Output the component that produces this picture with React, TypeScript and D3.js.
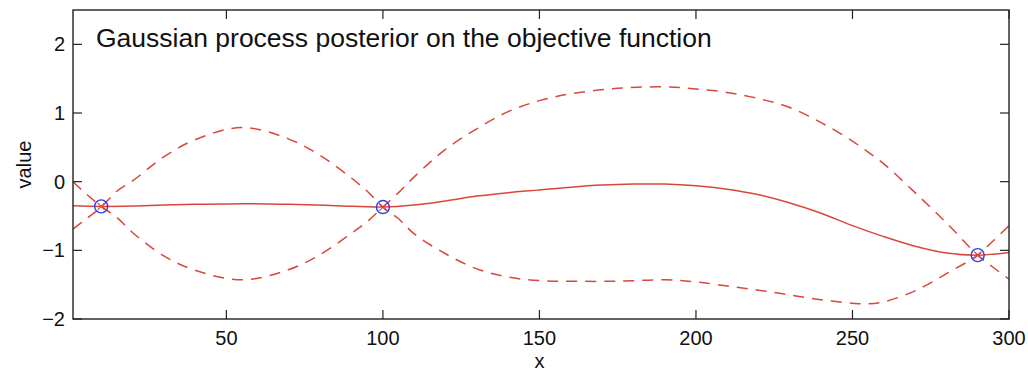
import React from "react";
import * as d3 from "d3";

const obsX = [10, 100, 290];
const obsY = [-0.36, -0.37, -1.07];

const gridX = [1, 5, 10, 15, 20, 30, 40, 55, 70, 80, 90, 95, 100, 105, 110, 120, 130, 140, 150, 160, 175, 190, 200, 210, 220, 230, 240, 250, 255, 260, 270, 280, 290, 295, 300];

const meanX = [1, 10, 20, 30, 40, 55, 70, 85, 100, 110, 120, 130, 140, 150, 160, 170, 180, 190, 200, 210, 220, 230, 240, 250, 260, 270, 280, 290, 300];
const meanY = [-0.35, -0.36, -0.355, -0.34, -0.33, -0.32, -0.33, -0.35, -0.37, -0.34, -0.28, -0.21, -0.16, -0.12, -0.08, -0.05, -0.035, -0.035, -0.06, -0.11, -0.19, -0.31, -0.46, -0.64, -0.8, -0.94, -1.04, -1.07, -1.03];

const bandA = [0.0, -0.17, -0.36, -0.52, -0.74, -1.08, -1.29, -1.43, -1.28, -1.06, -0.75, -0.58, -0.37, -0.16, 0.07, 0.47, 0.77, 1.02, 1.18, 1.28, 1.36, 1.38, 1.35, 1.30, 1.21, 1.08, 0.86, 0.59, 0.43, 0.26, -0.16, -0.60, -1.07, -1.25, -1.42];
const bandB = [-0.69, -0.55, -0.37, -0.14, 0.01, 0.36, 0.61, 0.79, 0.62, 0.38, 0.05, -0.14, -0.37, -0.54, -0.76, -1.05, -1.27, -1.39, -1.44, -1.45, -1.45, -1.43, -1.46, -1.52, -1.58, -1.65, -1.72, -1.77, -1.78, -1.75, -1.59, -1.34, -1.07, -0.86, -0.64];

const xTicks = [50, 100, 150, 200, 250, 300];
const yTicks = [-2, -1, 0, 1, 2];

const W = 1028, H = 371;
const L = 73, R = 1009, T = 10, B = 319;
const RED = "#d9473c";
const BLUE = "#2f3df0";
const AX = "#222";
const FONT = "'Liberation Sans', Arial, Helvetica, sans-serif";

export default function App() {
  const x = d3.scaleLinear().domain([1, 300]).range([L, R]);
  const y = d3.scaleLinear().domain([-2, 2.5]).range([B, T]);
  const line = d3.line<[number, number]>().x(d => x(d[0])).y(d => y(d[1])).curve(d3.curveCatmullRom.alpha(0.5));
  const meanPath = line(meanX.map((v, i) => [v, meanY[i]]))!;
  const aPath = line(gridX.map((v, i) => [v, bandA[i]]))!;
  const bPath = line(gridX.map((v, i) => [v, bandB[i]]))!;
  const fmt = (v: number) => (v < 0 ? "\u2212" + Math.abs(v) : String(v));
  const tl = 9;
  return (
    <svg width={W} height={H} style={{ position: "absolute", left: 0, top: 0, background: "#fff" }} fontFamily={FONT}>
      <defs>
        <clipPath id="plot"><rect x={L} y={T} width={R - L} height={B - T} /></clipPath>
      </defs>
      <rect x={0} y={0} width={W} height={H} fill="#fff" />
      <g clipPath="url(#plot)">
        <path d={aPath} fill="none" stroke={RED} strokeWidth={1.5} strokeDasharray="11,8" />
        <path d={bPath} fill="none" stroke={RED} strokeWidth={1.5} strokeDasharray="11,8" />
        <path d={meanPath} fill="none" stroke={RED} strokeWidth={1.5} />
        {obsX.map((v, i) => (
          <g key={i}>
            <path d={`M${x(v) - 3.5},${y(obsY[i]) - 3.5}L${x(v) + 3.5},${y(obsY[i]) + 3.5}M${x(v) - 3.5},${y(obsY[i]) + 3.5}L${x(v) + 3.5},${y(obsY[i]) - 3.5}`} stroke={RED} strokeWidth={1.2} />
            <circle cx={x(v)} cy={y(obsY[i])} r={6.5} fill="none" stroke={BLUE} strokeWidth={1.4} />
          </g>
        ))}
      </g>
      <rect x={L} y={T} width={R - L} height={B - T} fill="none" stroke={AX} strokeWidth={1.4} />
      {xTicks.map(t => (
        <g key={"x" + t}>
          <line x1={x(t)} x2={x(t)} y1={B} y2={B - tl} stroke={AX} strokeWidth={1.2} />
          <line x1={x(t)} x2={x(t)} y1={T} y2={T + tl} stroke={AX} strokeWidth={1.2} />
          <text x={x(t)} y={345} textAnchor="middle" fontSize={20} fill="#111">{fmt(t)}</text>
        </g>
      ))}
      {yTicks.map(t => (
        <g key={"y" + t}>
          <line x1={L} x2={L + tl} y1={y(t)} y2={y(t)} stroke={AX} strokeWidth={1.2} />
          <line x1={R} x2={R - tl} y1={y(t)} y2={y(t)} stroke={AX} strokeWidth={1.2} />
          <text x={65} y={y(t) + 7} textAnchor="end" fontSize={20} fill="#111">{fmt(t)}</text>
        </g>
      ))}
      <text x={x(150)} y={368} textAnchor="middle" fontSize={20} fill="#111">x</text>
      <text transform={`translate(31,${(T + B) / 2}) rotate(-90)`} textAnchor="middle" fontSize={20} fill="#111">value</text>
      <text x={96} y={47} fontSize={26.5} fill="#111">Gaussian process posterior on the objective function</text>
    </svg>
  );
}
